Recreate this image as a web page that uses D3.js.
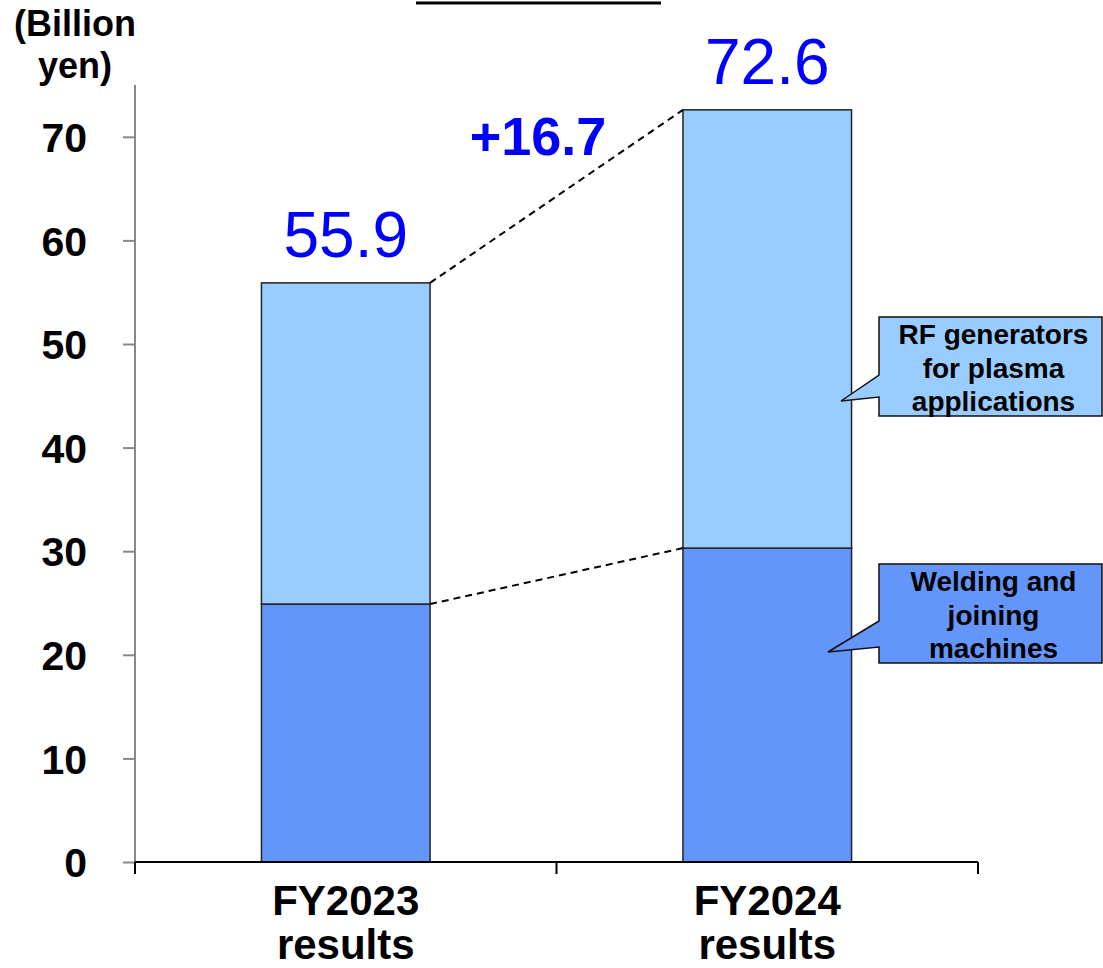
<!DOCTYPE html>
<html>
<head>
<meta charset="utf-8">
<script src="https://cdn.jsdelivr.net/npm/d3@7"></script>
<style>
  html, body { margin: 0; padding: 0; background: #fff; }
  svg { display: block; }
  text { font-family: "Liberation Sans", Arial, sans-serif; }
</style>
</head>
<body>
<svg id="chart" width="1103" height="968"></svg>
<script>
// Sales by business segment (billion yen)
const categories = ["FY2023 results", "FY2024 results"];
const welding = [24.9, 30.3];          // Welding and joining machines
const rfGenerators = [31.0, 42.3];     // RF generators for plasma applications
const totals = [55.9, 72.6];
const changeLabel = "+16.7";
const yTicks = [0, 10, 20, 30, 40, 50, 60, 70];
const unitLabel = ["(Billion", "yen)"];
const seriesNames = [["RF generators", "for plasma", "applications"], ["Welding and", "joining", "machines"]];

const colors = { rf: "#99CCFF", weld: "#6495FA" };

const svg = d3.select("#chart");

const x = d3.scaleBand().domain(categories).range([135, 978]).padding(0);
const y = d3.scaleLinear().domain([0, 75]).range([862, 85]);
const bw = x.bandwidth() * 0.4;
const barX = c => x(c) + (x.bandwidth() - bw) / 2;

// title underline
svg.append("line").attr("x1", 416).attr("x2", 661).attr("y1", 3).attr("y2", 3)
  .attr("stroke", "#000").attr("stroke-width", 3);

// Y axis
const yAxis = svg.append("g").attr("transform", "translate(135,0)")
  .call(d3.axisLeft(y).tickValues(yTicks).tickSize(12).tickPadding(36).tickFormat(d3.format("d")));
yAxis.select(".domain").attr("stroke", "#888").attr("stroke-width", 2).attr("d", `M0,${y(75)}V${y(0)}`);
yAxis.selectAll(".tick line").attr("stroke", "#888").attr("stroke-width", 2);
yAxis.selectAll(".tick text").attr("font-size", 41).attr("font-weight", "bold").attr("fill", "#000")
  .attr("dy", "0.36em");

// unit label
svg.append("text").attr("text-anchor", "middle")
  .attr("font-size", 36).attr("font-weight", "bold")
  .selectAll("tspan").data(unitLabel).join("tspan")
  .attr("x", 75).attr("y", (d, i) => 36 + i * 42).text(d => d);

// stacked bars
const stacks = categories.map((c, i) => ({ c, weld: welding[i], rf: rfGenerators[i], total: totals[i] }));

svg.selectAll("rect.weld").data(stacks).join("rect").attr("class", "weld")
  .attr("x", d => barX(d.c)).attr("width", bw)
  .attr("y", d => y(d.weld)).attr("height", d => y(0) - y(d.weld))
  .attr("fill", colors.weld).attr("stroke", "#222").attr("stroke-width", 1.5);

svg.selectAll("rect.rf").data(stacks).join("rect").attr("class", "rf")
  .attr("x", d => barX(d.c)).attr("width", bw)
  .attr("y", d => y(d.weld + d.rf)).attr("height", d => y(d.weld) - y(d.weld + d.rf))
  .attr("fill", colors.rf).attr("stroke", "#222").attr("stroke-width", 1.5);

// X axis
const xAxisG = svg.append("g");
xAxisG.append("line").attr("x1", 135).attr("x2", 978).attr("y1", y(0)).attr("y2", y(0))
  .attr("stroke", "#000").attr("stroke-width", 2);
const edges = [x(categories[0]), x(categories[1]), x(categories[1]) + x.bandwidth()];
xAxisG.selectAll("line.tick").data(edges).join("line").attr("class", "tick")
  .attr("x1", d => d).attr("x2", d => d).attr("y1", y(0)).attr("y2", y(0) + 12)
  .attr("stroke", "#000").attr("stroke-width", 2);

xAxisG.selectAll("text.cat").data(categories).join("text").attr("class", "cat")
  .attr("text-anchor", "middle").attr("font-size", 42).attr("font-weight", "bold")
  .each(function (d) {
    const cx = x(d) + x.bandwidth() / 2;
    d3.select(this).selectAll("tspan").data(d.split(" ")).join("tspan")
      .attr("x", cx).attr("y", (t, i) => 915 + i * 44).text(t => t);
  });

// connector lines between bars
const a = stacks[0], b = stacks[1];
const conn = [[a.weld, b.weld], [a.total, b.total]];
svg.selectAll("line.conn").data(conn).join("line").attr("class", "conn")
  .attr("x1", barX(a.c) + bw).attr("x2", barX(b.c))
  .attr("y1", d => y(d[0])).attr("y2", d => y(d[1]))
  .attr("stroke", "#000").attr("stroke-width", 2).attr("stroke-dasharray", "7,5");

// total labels
svg.selectAll("text.total").data(stacks).join("text").attr("class", "total")
  .attr("x", d => x(d.c) + x.bandwidth() / 2).attr("y", d => y(d.total) - 26)
  .attr("text-anchor", "middle").attr("font-size", 64).attr("fill", "#0000FF")
  .text(d => d3.format(".1f")(d.total));

// change label
svg.append("text").attr("x", 538).attr("y", 155).attr("text-anchor", "middle")
  .attr("font-size", 54).attr("font-weight", "bold").attr("fill", "#0000FF").text(changeLabel);

// callouts
const callouts = [
  { lines: seriesNames[0], fill: colors.rf, top: 317, bottom: 416, p1: 375, p2: 397, tip: [841, 401] },
  { lines: seriesNames[1], fill: colors.weld, top: 564, bottom: 663, p1: 621, p2: 647, tip: [828, 652] }
];
const boxL = 879, boxR = 1102;
callouts.forEach(co => {
  const path = `M${boxL},${co.top}H${boxR}V${co.bottom}H${boxL}V${co.p2}L${co.tip[0]},${co.tip[1]}L${boxL},${co.p1}Z`;
  svg.append("path").attr("d", path).attr("fill", co.fill).attr("stroke", "#111").attr("stroke-width", 1.5);
  svg.append("text").attr("text-anchor", "middle").attr("font-size", 28).attr("font-weight", "bold")
    .selectAll("tspan").data(co.lines).join("tspan")
    .attr("x", (boxL + boxR) / 2 + 3).attr("y", (d, i) => co.top + 27 + i * 33.5).text(d => d);
});
</script>
</body>
</html>
